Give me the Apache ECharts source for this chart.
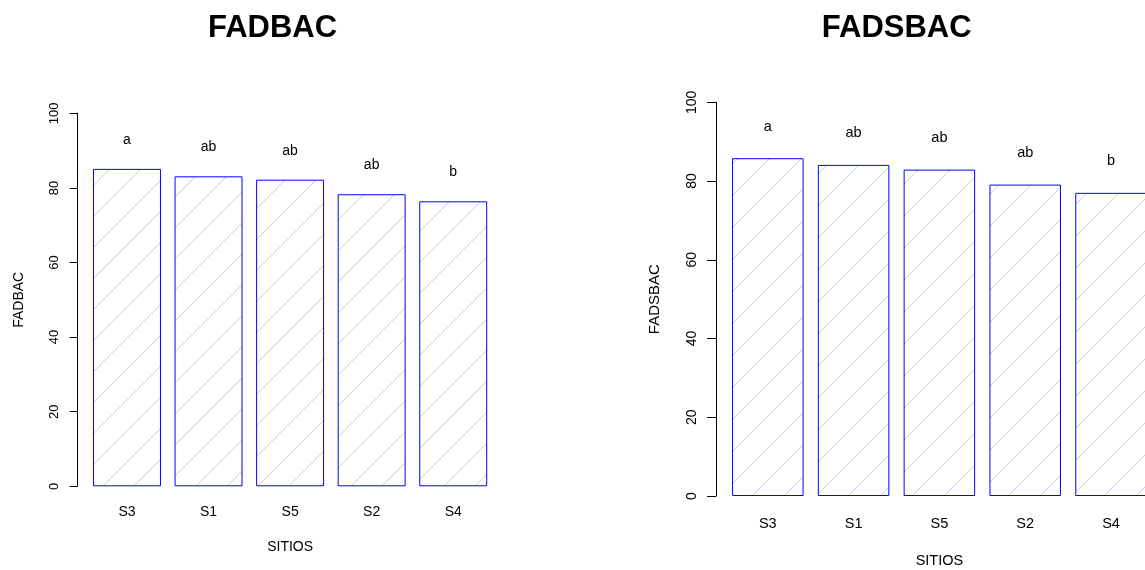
<!DOCTYPE html>
<html>
<head>
<meta charset="utf-8">
<script src="https://cdn.jsdelivr.net/npm/echarts@6/dist/echarts.min.js"></script>
<style>
html,body{margin:0;padding:0;background:#fff;}
#chart{width:1145px;height:570px;}
</style>
</head>
<body>
<div id="chart"></div>
<script>
const sites = ['S3', 'S1', 'S5', 'S2', 'S4'];
const fadbac = [85.1, 83.1, 82.2, 78.3, 76.4];
const fadsbac = [85.8, 84.1, 82.9, 79.1, 77.0];
const lettersFadbac = ['a', 'ab', 'ab', 'ab', 'b'];
const lettersFadsbac = ['a', 'ab', 'ab', 'ab', 'b'];
const yMin = 0, yMax = 100, yStep = 20;

const FONT = "'Liberation Sans', Arial, sans-serif";

function hatch(size, color) {
  const c = document.createElement('canvas');
  c.width = size; c.height = size;
  const g = c.getContext('2d');
  g.fillStyle = '#ffffff';
  g.fillRect(0, 0, size, size);
  g.strokeStyle = color;
  g.lineWidth = 1;
  g.beginPath();
  g.moveTo(-2, size + 2); g.lineTo(size + 2, -2);
  g.moveTo(-2, 2); g.lineTo(2, -2);
  g.moveTo(size - 2, size + 2); g.lineTo(size + 2, size - 2);
  g.stroke();
  return { image: c, repeat: 'repeat' };
}

function yAxisCfg(gi, name, offset, tickLen, tickFont, nameFont, labelMargin, nameGap) {
  return {
    type: 'value', gridIndex: gi, min: yMin, max: yMax, interval: yStep,
    offset: offset,
    name: name, nameLocation: 'middle', nameGap: nameGap, nameRotate: 90,
    nameTextStyle: { color: '#000', fontSize: nameFont, fontFamily: FONT },
    axisLine: { show: true, lineStyle: { color: '#000', width: 1 } },
    axisTick: { show: true, length: tickLen, lineStyle: { color: '#000', width: 1 } },
    axisLabel: { rotate: 90, color: '#000', fontSize: tickFont, fontFamily: FONT, margin: labelMargin },
    splitLine: { show: false }
  };
}

function xAxisCfg(gi, labelFont, nameFont, labelMargin, nameGap) {
  return {
    type: 'category', gridIndex: gi, data: sites,
    name: 'SITIOS', nameLocation: 'middle', nameGap: nameGap,
    nameTextStyle: { color: '#000', fontSize: nameFont, fontFamily: FONT },
    axisLine: { show: false }, axisTick: { show: false },
    axisLabel: { color: '#000', fontSize: labelFont, fontFamily: FONT, margin: labelMargin },
    splitLine: { show: false }
  };
}

function barSeries(idx, values, letters, pattern, font, dist) {
  return {
    type: 'bar', xAxisIndex: idx, yAxisIndex: idx, data: values,
    barCategoryGap: '16.67%',
    itemStyle: { color: pattern, borderColor: '#0000ff', borderWidth: 1 },
    label: {
      show: true, position: 'top', distance: dist,
      formatter: p => letters[p.dataIndex],
      color: '#000', fontSize: font, fontFamily: FONT
    },
    emphasis: { disabled: true }
  };
}

const chart = echarts.init(document.getElementById('chart'), null, { renderer: 'canvas' });
chart.setOption({
  animation: false,
  backgroundColor: '#ffffff',
  title: [
    { text: 'FADBAC', left: 267.5, textAlign: 'center', top: 8,
      textStyle: { fontSize: 31, fontWeight: 'bold', color: '#000', fontFamily: FONT } },
    { text: 'FADSBAC', left: 891.7, textAlign: 'center', top: 8,
      textStyle: { fontSize: 31, fontWeight: 'bold', color: '#000', fontFamily: FONT } }
  ],
  grid: [
    { left: 86.2, width: 407.8, top: 113.3, height: 373, outerBoundsMode: 'none', containLabel: false },
    { left: 724.9, width: 429, top: 102.3, height: 393.7, outerBoundsMode: 'none', containLabel: false }
  ],
  xAxis: [
    xAxisCfg(0, 14, 14, 19, 54),
    xAxisCfg(1, 14.5, 14.5, 20, 57)
  ],
  yAxis: [
    yAxisCfg(0, 'FADBAC', 8.5, 8, 13, 14, 17, 52),
    yAxisCfg(1, 'FADSBAC', 8.9, 9, 14, 15, 17, 54)
  ],
  series: [
    barSeries(0, fadbac, lettersFadbac, hatch(31, '#cccccc'), 14, 22),
    barSeries(1, fadsbac, lettersFadsbac, hatch(32, '#cccccc'), 14.5, 24)
  ]
});
</script>
</body>
</html>
